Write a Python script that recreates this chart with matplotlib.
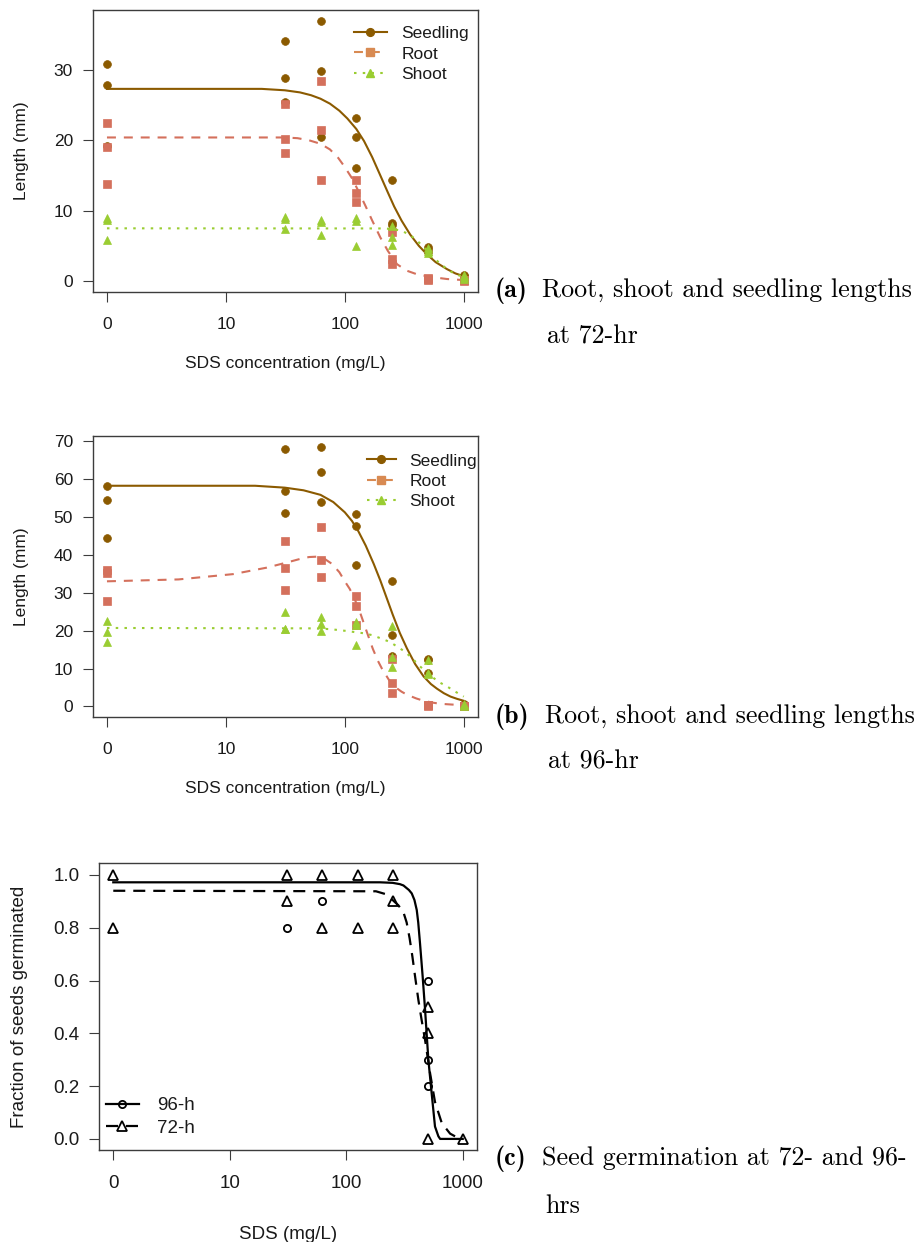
import numpy as np
import matplotlib.pyplot as plt
from matplotlib.lines import Line2D
from matplotlib.ticker import NullLocator

plt.rcParams['font.family'] = ['Liberation Sans', 'DejaVu Sans']

W, H = 919, 1242

# SDS doses (mg/L); dose 0 sits one decade below 10 on the log axis
doses = [0, 31.25, 62.5, 125, 250, 500, 1000]

# (a) lengths at 72-hr (mm), replicates per dose
seedling_72 = [[30.8, 27.8, 19.2], [34.1, 28.9, 25.5], [37.0, 29.9, 20.5],
               [23.2, 20.5, 16.0], [14.4, 8.3, 8.0], [4.8, 4.5, 4.2], [0.9, 0.7, 0.5]]
root_72 = [[22.4, 19.0, 13.8], [25.2, 20.2, 18.2], [28.4, 21.4, 14.4],
           [14.4, 12.5, 11.3], [7.0, 3.2, 2.5], [0.5, 0.3, 0.2], [0.2, 0.1, 0.0]]
shoot_72 = [[9.0, 8.7, 5.8], [9.1, 8.8, 7.4], [8.7, 8.4, 6.5],
            [8.9, 8.5, 5.0], [7.8, 6.2, 5.1], [4.7, 4.3, 4.0], [0.9, 0.6, 0.3]]

# fitted curves at 72-hr
seedling_72_fit_x = [0, 20, 31.3, 42, 52, 62.5, 75, 90, 105, 125, 145, 170, 199, 230, 260,
                     300, 355, 420, 491, 580, 724, 850, 1000]
seedling_72_fit_y = [27.3, 27.3, 27.1, 26.8, 26.4, 25.9, 25.2, 24.2, 23.1, 21.6, 19.9, 17.6,
                     15.0, 12.6, 10.6, 8.6, 6.6, 5.0, 3.8, 2.7, 1.7, 1.1, 0.7]
root_72_fit_x = [0, 31.3, 40, 50, 62.5, 75, 88, 100, 115, 130, 150, 170, 199, 230, 275,
                 330, 400, 525, 724, 1000]
root_72_fit_y = [20.4, 20.4, 20.3, 20.0, 19.5, 18.7, 17.5, 16.2, 14.6, 12.8, 10.6, 8.6, 6.2,
                 4.3, 2.4, 1.5, 1.0, 0.6, 0.3, 0.15]
shoot_72_fit_x = [0, 200, 250, 300, 350, 400, 450, 500, 550, 600, 700, 800, 900, 1000]
shoot_72_fit_y = [7.5, 7.48, 7.42, 7.15, 6.6, 5.85, 5.0, 4.2, 3.5, 2.85, 1.9, 1.25, 0.85, 0.6]

# (b) lengths at 96-hr (mm)
seedling_96 = [[58.2, 54.5, 44.5], [67.9, 56.7, 51.0], [68.5, 61.8, 54.0],
               [50.7, 47.7, 37.2], [33.1, 18.9, 13.4], [12.5, 12.2, 8.8], [0.7, 0.5, 0.3]]
root_96 = [[36.0, 35.1, 27.9], [43.7, 36.6, 30.8], [47.4, 38.5, 34.1],
           [29.0, 26.5, 21.5], [12.5, 6.2, 3.5], [0.5, 0.3, 0.2], [0.2, 0.1, 0.0]]
shoot_96 = [[22.6, 19.7, 17.1], [24.9, 20.5, 20.3], [23.7, 21.8, 19.9],
            [22.2, 21.6, 16.1], [21.1, 13.0, 10.4], [12.3, 8.8, 8.6], [0.7, 0.4, 0.2]]

seedling_96_fit_x = [0, 17.6, 31.3, 45, 62.5, 80, 100, 115, 130, 150, 175, 199, 225, 253,
                     290, 333, 390, 460, 530, 595, 680, 775, 880, 1000]
seedling_96_fit_y = [58.2, 58.2, 57.7, 57.0, 55.8, 53.9, 51.2, 48.9, 46.2, 42.4, 37.6, 33.2,
                     28.6, 24.2, 19.4, 15.3, 11.2, 7.9, 5.9, 4.7, 3.5, 2.6, 2.0, 1.5]
root_96_fit_x = [0, 4, 11.5, 22, 32, 42, 50, 58, 67, 78, 90, 100, 110, 120, 135, 153, 172,
                 190, 205, 235, 268, 300, 333, 400, 460, 550, 636, 800, 1000]
root_96_fit_y = [33.0, 33.5, 34.9, 36.6, 37.9, 38.9, 39.4, 39.5, 39.0, 37.6, 35.4, 33.0,
                 31.0, 28.6, 24.6, 19.7, 15.2, 12.0, 10.0, 7.0, 5.0, 3.9, 3.1, 2.1, 1.5,
                 1.0, 0.7, 0.5, 0.4]
shoot_96_fit_x = [0, 50, 75, 104, 144, 170, 199, 240, 275, 315, 355, 390, 431, 490, 558,
                  630, 722, 850, 1000]
shoot_96_fit_y = [20.7, 20.6, 20.4, 19.9, 19.3, 18.8, 18.0, 17.0, 15.8, 14.6, 13.2, 11.9,
                  10.5, 9.0, 7.5, 6.3, 5.3, 3.9, 2.6]

# (c) fraction germinated
germ_72 = [[1.0, 0.8], [1.0, 0.9], [1.0, 0.8], [1.0, 0.8], [1.0, 0.9, 0.8], [0.5, 0.4, 0.0], [0.0]]
germ_96 = [[], [0.8], [0.9], [], [], [0.6, 0.3, 0.2], []]

germ_96_fit_x = [0, 195, 250, 289, 310, 330, 345, 365, 385, 403, 415, 430, 453, 475, 507,
                 542, 578, 618, 640, 1000]
germ_96_fit_y = [0.972, 0.972, 0.97, 0.965, 0.96, 0.95, 0.943, 0.93, 0.905, 0.867, 0.82,
                 0.74, 0.615, 0.49, 0.30, 0.17, 0.047, 0.01, 0.0, 0.0]
germ_72_fit_x = [0, 180, 215, 250, 280, 309, 330, 350, 370, 390, 416, 444, 475, 524, 578,
                 661, 779, 900, 1000]
germ_72_fit_y = [0.94, 0.938, 0.928, 0.905, 0.885, 0.86, 0.82, 0.76, 0.69, 0.615, 0.527,
                 0.45, 0.375, 0.25, 0.14, 0.06, 0.02, 0.005, 0.0]

BROWN = '#8B5A00'
SALMON = '#D4705C'
SALMON_LEG = '#D88A52'
GREEN = '#9ACD32'
FRAME = '#3c3c3c'
TXT = '#1a1a1a'
FS = 12.5
FS_C = 13.5
MS = 5.6


def xpos(d):
    d = np.asarray(d, dtype=float)
    return np.where(d == 0, 1.0, d)


def reps(vals):
    xs, ys = [], []
    for d, v in zip(doses, vals):
        xs += [d] * len(v)
        ys += list(v)
    return xpos(xs), ys


def px_axes(left, top, right, bottom):
    return fig.add_axes([left / W, 1 - bottom / H, (right - left) / W, (bottom - top) / H])


def style(ax, yticks, ylabels, ylim, xlabel, ylabel, xlab_y, ylab_x, fs):
    ax.set_xscale('log')
    ax.set_xlim(10 ** -0.12, 10 ** 3.12)
    ax.set_ylim(*ylim)
    ax.set_xticks([1, 10, 100, 1000], ['0', '10', '100', '1000'])
    ax.xaxis.set_minor_locator(NullLocator())
    ax.set_yticks(yticks, ylabels)
    ax.tick_params(direction='out', length=7.2, width=0.8, color=FRAME,
                   labelsize=fs, labelcolor=TXT)
    ax.tick_params(axis='x', pad=11)
    ax.tick_params(axis='y', pad=7)
    for s in ax.spines.values():
        s.set_color(FRAME)
        s.set_linewidth(1.0)
    ax.set_xlabel(xlabel, fontsize=fs, color=TXT)
    ax.set_ylabel(ylabel, fontsize=fs, color=TXT)
    ax.xaxis.set_label_coords(0.5, xlab_y)
    ax.yaxis.set_label_coords(ylab_x, 0.5)


fig = plt.figure(figsize=(W / 100, H / 100), dpi=100)

dash = (0, (4.3, 3.8))
dot = (0, (1.2, 3.0))

length_panels = [
    (10, 291.7, (-1.5, 38.5), [0, 10, 20, 30],
     (seedling_72, root_72, shoot_72),
     ((seedling_72_fit_x, seedling_72_fit_y), (root_72_fit_x, root_72_fit_y),
      (shoot_72_fit_x, shoot_72_fit_y)),
     (0.678, 0.943), 1.9, 0.85),
    (435.7, 716.7, (-2.7, 71.4), [0, 10, 20, 30, 40, 50, 60, 70],
     (seedling_96, root_96, shoot_96),
     ((seedling_96_fit_x, seedling_96_fit_y), (root_96_fit_x, root_96_fit_y),
      (shoot_96_fit_x, shoot_96_fit_y)),
     (0.711, 0.937), 1.7, 0.76),
]

for top, bottom, ylim, yt, pts, fits, legpos, hl, htp in length_panels:
    ax = px_axes(92.7, top, 478, bottom)
    colors = [BROWN, SALMON, GREEN]
    markers = ['o', 's', '^']
    styles = ['-', dash, dot]
    for vals, (fx, fy), c, m, ls in zip(pts, fits, colors, markers, styles):
        x, y = reps(vals)
        ax.plot(x, y, ls='none', marker=m, ms=MS, color=c, mec=c, mew=0.5)
        ax.plot(xpos(fx), fy, ls=ls, color=c, lw=1.5)
    style(ax, yt, [str(v) for v in yt], ylim, 'SDS concentration (mg/L)', 'Length (mm)',
          -0.228, -0.165, FS)
    handles = [Line2D([], [], color=BROWN, ls='-', lw=1.5, marker='o', ms=MS),
               Line2D([], [], color=SALMON_LEG, ls=dash, lw=1.5, marker='s', ms=MS),
               Line2D([], [], color=GREEN, ls=dot, lw=1.5, marker='^', ms=MS)]
    ax.legend(handles, ['Seedling', 'Root', 'Shoot'], loc='upper left', bbox_to_anchor=legpos,
              frameon=False, fontsize=FS, handlelength=hl, handletextpad=htp,
              labelspacing=0.3, borderpad=0, borderaxespad=0, labelcolor=TXT)

# (c) germination
ax = px_axes(99.3, 863.3, 476.7, 1150)
x, y = reps(germ_72)
ax.plot(x, y, ls='none', marker='^', ms=6.8, mfc='none', mec='black', mew=1.3)
x, y = reps(germ_96)
ax.plot(x, y, ls='none', marker='o', ms=5.2, mfc='none', mec='black', mew=1.3)
ax.plot(xpos(germ_96_fit_x), germ_96_fit_y, color='black', lw=1.6)
ax.plot(xpos(germ_72_fit_x), germ_72_fit_y, color='black', lw=1.6, ls=(0, (5.4, 3.6)))
gt = [0, 0.2, 0.4, 0.6, 0.8, 1.0]
style(ax, gt, ['%.1f' % v for v in gt], (-0.042, 1.044), 'SDS (mg/L)',
      'Fraction of seeds germinated', -0.265, -0.19, FS_C)
handles = [Line2D([], [], color='black', lw=1.6, marker='o', ms=5.2, mfc='none', mew=1.3),
           Line2D([], [], color='black', lw=1.6, ls=(0, (5.4, 3.6)), marker='^', ms=6.8,
                  mfc='none', mew=1.3)]
ax.legend(handles, ['96-h', '72-h'], loc='lower left', bbox_to_anchor=(0.018, 0.047),
          frameon=False, fontsize=FS_C, handlelength=1.75, handletextpad=0.95,
          labelspacing=0.28, borderpad=0, borderaxespad=0, labelcolor=TXT)

# captions
CAP = 18.7
captions = [
    (297, 343.3, '(a)', 'Root, shoot and seedling lengths', 'at 72-hr', 541.7, 546.7),
    (723.3, 768.3, '(b)', 'Root, shoot and seedling lengths', 'at 96-hr', 545, 548.3),
    (1165, 1213.3, '(c)', 'Seed germination at 72- and 96-', 'hrs', 541.7, 545),
]
for y1, y2, tag, l1, l2, x1, x2 in captions:
    fig.text(495 / W, 1 - y1 / H, tag, family='cmb10', fontsize=CAP, va='baseline')
    fig.text(x1 / W, 1 - y1 / H, l1, family='cmr10', fontsize=CAP, va='baseline')
    fig.text(x2 / W, 1 - y2 / H, l2, family='cmr10', fontsize=CAP, va='baseline')

fig.savefig('out.png', dpi=100)
